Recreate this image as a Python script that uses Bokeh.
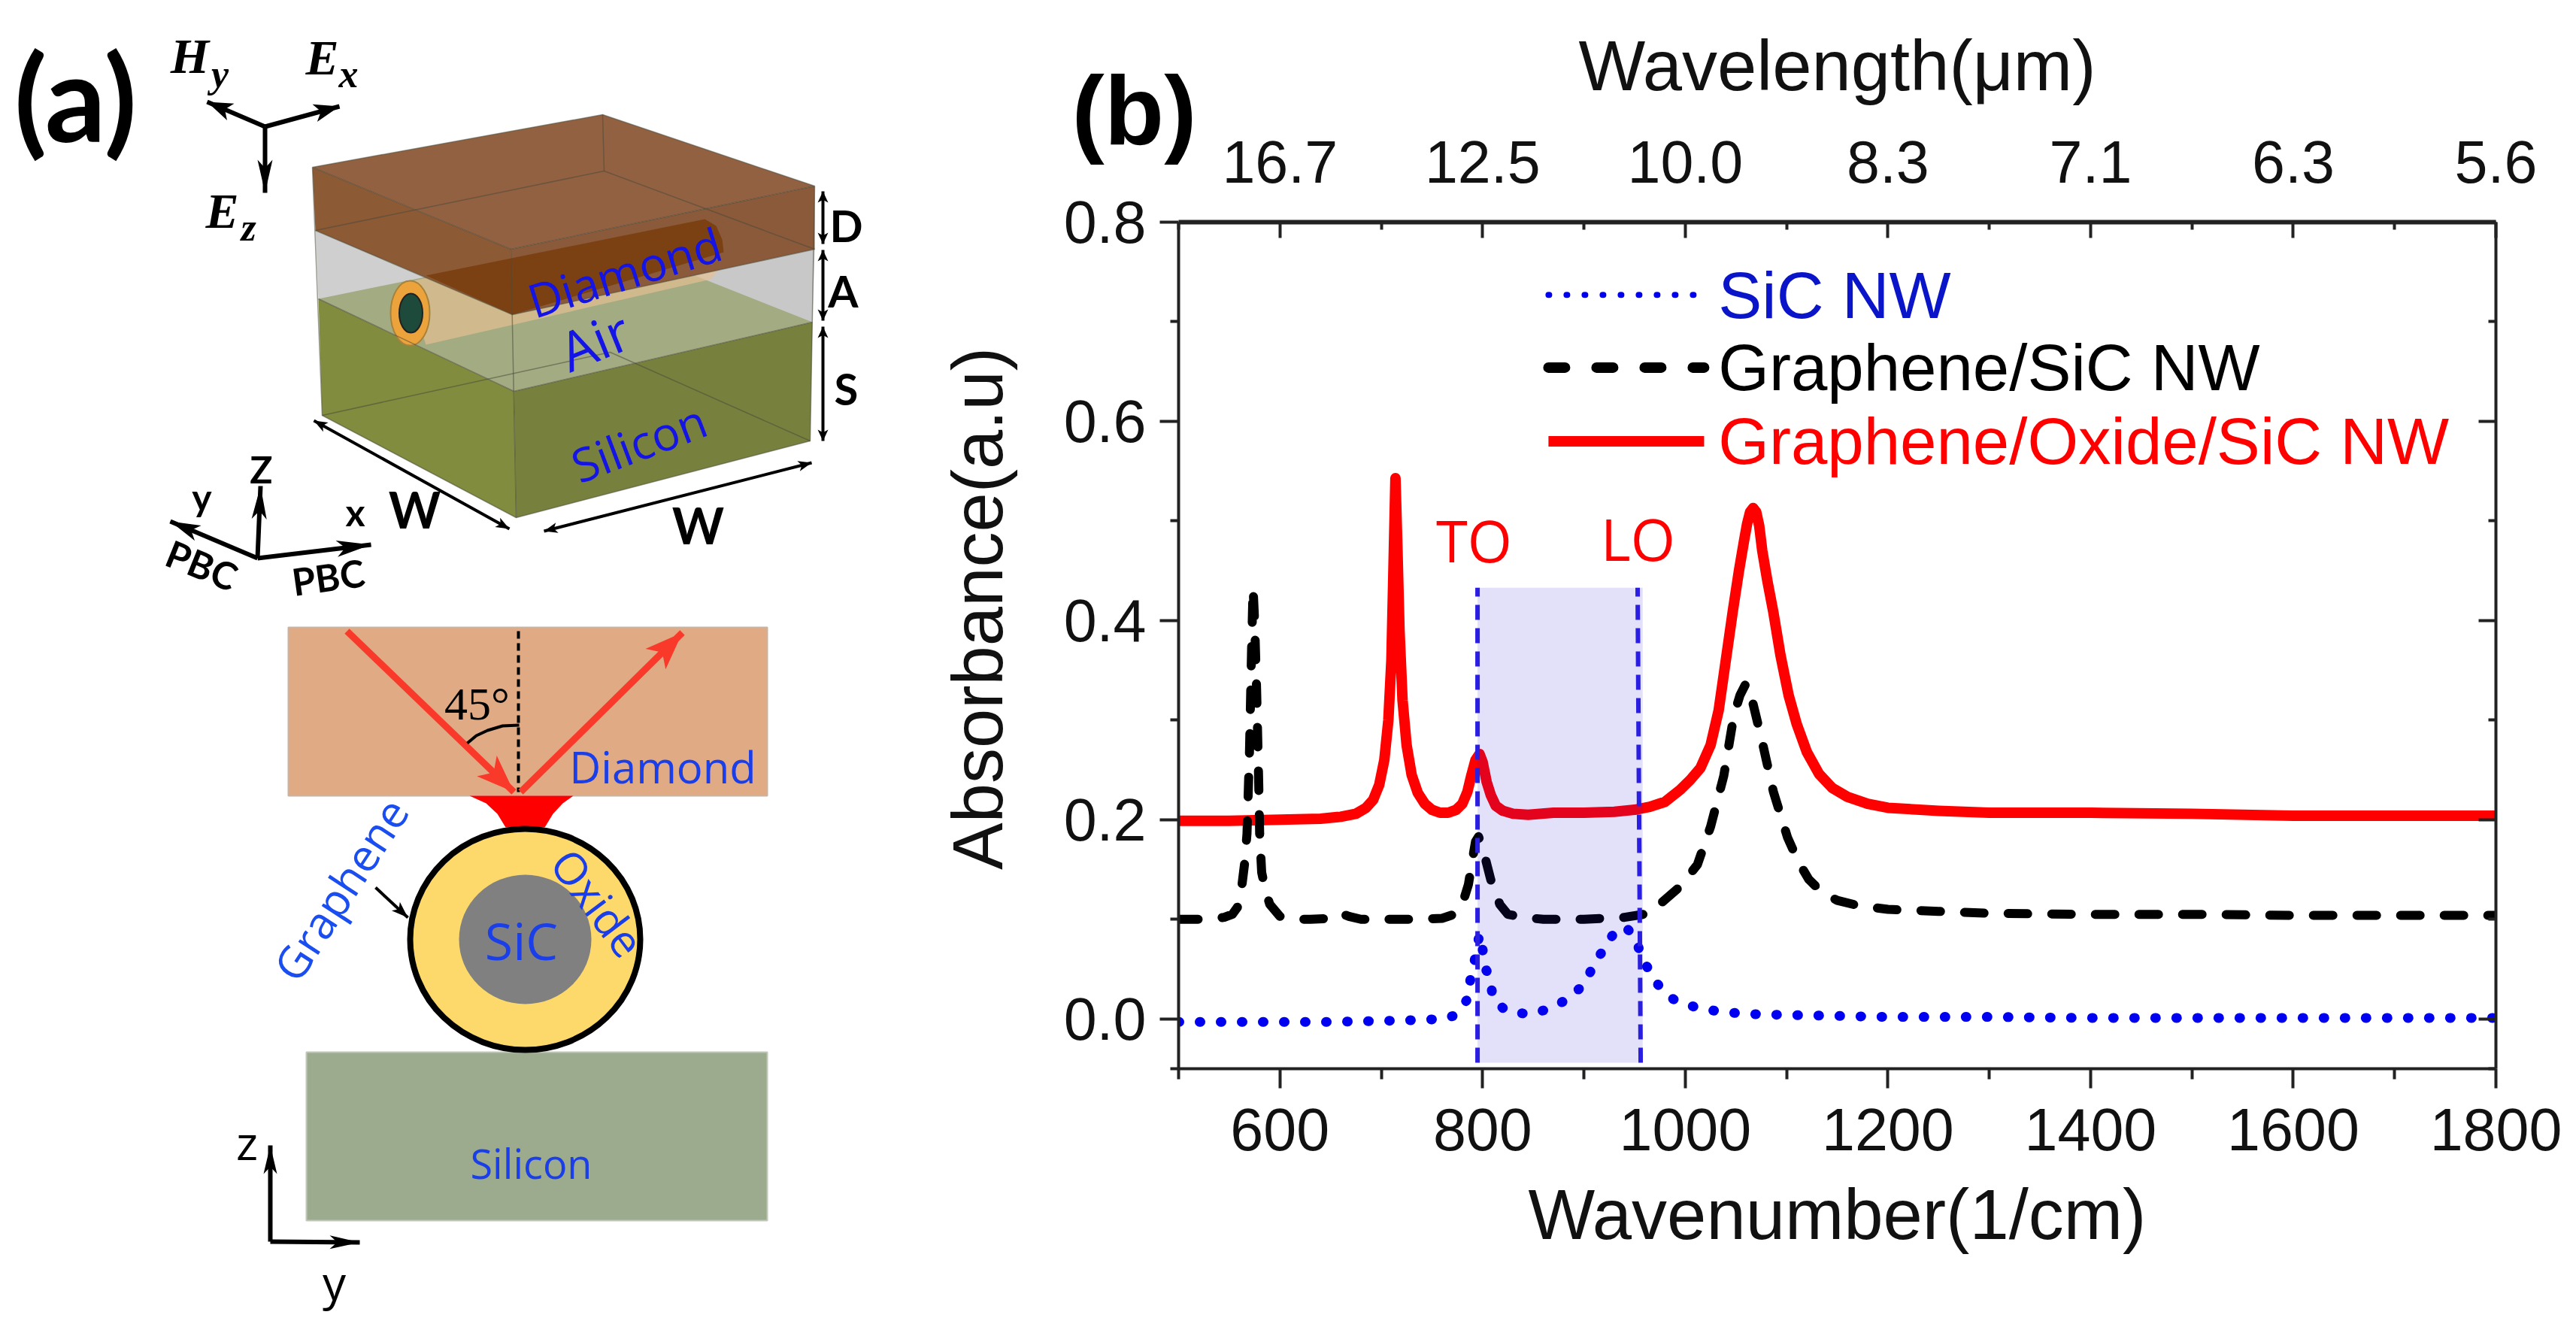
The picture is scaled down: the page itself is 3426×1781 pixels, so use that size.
from bokeh.plotting import figure
from bokeh.embed import file_html
from bokeh.resources import INLINE
from bokeh.models import Range1d, LinearAxis, FixedTicker, Label, NumeralTickFormatter
from bokeh.core.properties import value
import math

# ---------- chart data ----------
red_x = [500,550,600,640,660,675,685,692,698,703,707,710,712,714,716,718,721,725,730,736,743,750,758,766,774,780,785,789,793,797,800,804,808,813,820,830,845,870,900,930,950,965,980,995,1005,1015,1025,1033,1040,1047,1053,1058,1061,1064,1067,1070,1073,1076,1081,1087,1094,1102,1110,1120,1132,1145,1160,1180,1200,1250,1300,1400,1500,1600,1700,1800]
red_y = [.199,.199,.200,.201,.203,.206,.212,.220,.235,.26,.30,.36,.45,.543,.47,.39,.32,.275,.245,.227,.216,.21,.207,.207,.21,.216,.228,.245,.26,.266,.258,.238,.225,.214,.209,.206,.205,.207,.207,.208,.210,.213,.218,.23,.24,.252,.275,.31,.36,.41,.45,.48,.497,.509,.513,.509,.495,.47,.44,.408,.365,.325,.296,.268,.246,.232,.223,.216,.212,.209,.207,.207,.206,.204,.204,.204]
black_x = [500,530,545,553,558,562,565,567.5,570,572,573.5,575,577,579,580,582,586,590,600,615,630,650,660,668,680,700,730,760,772,780,786,790,793,796,800,808,817,825,840,860,900,940,965,978,995,1012,1025,1038,1048,1054,1060,1067,1076,1087,1101,1112,1122,1135,1150,1170,1200,1250,1300,1400,1500,1600,1700,1800]
black_y = [.100,.100,.102,.105,.112,.13,.155,.186,.27,.37,.433,.40,.33,.24,.186,.147,.128,.115,.103,.100,.100,.101,.106,.103,.100,.100,.100,.101,.105,.115,.135,.16,.178,.183,.172,.14,.115,.105,.102,.100,.100,.102,.106,.118,.133,.155,.193,.244,.305,.325,.337,.316,.278,.228,.182,.157,.14,.127,.119,.114,.110,.108,.106,.105,.105,.104,.104,.104]
blue_x = [500,550,600,650,700,740,760,771,780,785,788,791,794,797,800,803,807,810,816,824,835,846,856,866,875,884,892,899,905,909,915,921,927,932,938,943,949,953,956,961,966,972,979,988,997,1016,1038,1060,1100,1150,1200,1300,1400,1500,1600,1700,1800]
blue_y = [-.003,-.003,-.003,-.003,-.002,-.001,0,.003,.012,.02,.04,.052,.07,.085,.07,.05,.043,.022,.014,.008,.006,.005,.007,.011,.015,.02,.027,.034,.044,.054,.063,.072,.082,.09,.092,.09,.085,.075,.064,.055,.045,.036,.027,.02,.016,.01,.007,.005,.004,.003,.002,.002,.001,.001,.001,.001,.001]

x_major = [600, 800, 1000, 1200, 1400, 1600, 1800]
x_minor = [500, 700, 900, 1100, 1300, 1500, 1700]
y_major = [0.0, 0.2, 0.4, 0.6, 0.8]
y_minor = [-0.05, 0.1, 0.3, 0.5, 0.7]
top_labels = ["16.7", "12.5", "10.0", "8.3", "7.1", "6.3", "5.6"]
legend_names = ["SiC NW", "Graphene/SiC NW", "Graphene/Oxide/SiC NW"]
legend_colors = ["#0a14c8", "#000000", "#ff0000"]
legend_y = [0.727, 0.654, 0.580]
to_lo = [795, 956]
band_top = 0.433

PAGE_H = 1773
SPLIT = 1200     # image x where the chart figure starts
A_W = 1620       # the schematic layer runs under the chart's left margin
RIGHT = 3418
SANS = "Liberation Sans"
HUM = "Open Sans"

# ---------- panel (a): schematic in image pixel coordinates ----------
a = figure(width=A_W, height=PAGE_H, x_range=Range1d(0, A_W), y_range=Range1d(PAGE_H, 0),
           output_backend="svg", toolbar_location=None, min_border=0, outline_line_color=None)
a.xaxis.visible = False; a.yaxis.visible = False; a.grid.visible = False
a.styles = {"position": "absolute", "left": "0px", "top": "0px"}

def poly(pts, fill, alpha=1.0, line=None, lw=1.0, lalpha=1.0):
    a.patch([p[0] for p in pts], [p[1] for p in pts], fill_color=fill, fill_alpha=alpha,
            line_color=line, line_width=lw, line_alpha=lalpha)

def head(tip, tail, hl, hw, color):
    dx, dy = tip[0]-tail[0], tip[1]-tail[1]
    n = math.hypot(dx, dy); ux, uy = dx/n, dy/n
    bx, by = tip[0]-ux*hl, tip[1]-uy*hl
    a.patch([tip[0], bx-uy*hw, tip[0]-ux*hl*0.75, bx+uy*hw], [tip[1], by+ux*hw, tip[1]-uy*hl*0.75, by-ux*hw],
            fill_color=color, line_color=None)

def arrow(tail, tip, lw=4, hl=24, hw=9, color="#000000", both=False):
    a.line([tail[0], tip[0]], [tail[1], tip[1]], line_color=color, line_width=lw)
    head(tip, tail, hl, hw, color)
    if both:
        head(tail, tip, hl, hw, color)

def text(x, y, s, size, color="#000000", font=HUM, style="normal", angle=0, align="center"):
    a.text([x], [y], text=[s], text_font=value(font), text_font_size=f"{size}px", text_color=color,
           text_font_style=style, angle=math.radians(angle), text_align=align, text_baseline="middle")

# cube
poly([(423,397),(428,552),(686,688),(683,520)], "#828c3e")
poly([(683,520),(686,688),(1077,586),(1080,428)], "#78803e")
poly([(419,306),(681,418),(683,520),(423,397)], "#cfcfcf")
poly([(681,418),(1083,331),(1080,428),(683,520)], "#c8c8c8")
poly([(423,397),(683,520),(1080,428),(805,319)], "#a3ab83")
# wire (below the diamond)
poly([(539,375),(937,291),(952,300),(960,318),(962,335),(958,355),(945,371),(566,458)], "#e8c090", 0.65)
a.ellipse([545],[416], width=52, height=86, fill_color="#eda33b", line_color="#a9823a", line_width=2)
a.ellipse([546],[416], width=31, height=52, fill_color="#1d4a3a", line_color="#222222", line_width=2)
# diamond
poly([(415,222),(801,152),(1083,247),(679,331)], "#926142")
poly([(415,222),(679,331),(681,418),(419,306)], "#8d5a36")
poly([(679,331),(1083,247),(1083,331),(681,418)], "#8a5a3a")
poly([(566,366),(937,291),(952,300),(960,318),(962,335),(681,418)], "#7a3e0e", 0.9)
# cube edges
for pts in [[(415,222),(801,152),(1083,247),(679,331),(415,222)], [(679,331),(686,688)],
            [(801,152),(803,227)], [(419,306),(803,227),(1083,331)], [(423,397),(683,520),(1080,428)],
            [(428,552),(811,468),(1077,586)], [(415,222),(428,552),(686,688),(1077,586),(1083,247)],
            [(419,306),(681,418),(1083,331)]]:
    a.line([p[0] for p in pts], [p[1] for p in pts], line_color="#4a4a3a", line_width=1.5, line_alpha=0.55)

text(830, 361, "Diamond", 62, "#1414e6", angle=17.4)
text(790, 452, "Air", 72, "#1414e6", angle=22)
text(849, 588, "Silicon", 62, "#1414e6", angle=20.7)

# size arrows
arrow((1094,254),(1094,324), 4, 15, 7, both=True)
arrow((1094,332),(1094,426), 4, 15, 7, both=True)
arrow((1094,434),(1094,586), 4, 15, 7, both=True)
text(1125, 299, "D", 58, style="bold", font="Lato")
text(1121, 386, "A", 58, style="bold", font="Lato")
text(1125, 516, "S", 58, style="bold", font="Lato")
arrow((417,559),(677,703), 4, 18, 7, both=True)
arrow((723,706),(1079,615), 4, 18, 7, both=True)
text(551, 677, "W", 66, font="Lato", style="bold")
text(928, 698, "W", 66, font="Lato", style="bold")

# field triad
arrow((352,168),(275,135), 6, 34, 12)
arrow((352,168),(451,141), 6, 34, 12)
arrow((352,168),(352,256), 6, 44, 10)
SERIF = "Liberation Serif"
text(252, 74, "H", 66, font=SERIF, style="bold italic")
text(292, 98, "y", 52, font=SERIF, style="bold italic")
text(428, 76, "E", 66, font=SERIF, style="bold italic")
text(463, 98, "x", 52, font=SERIF, style="bold italic")
text(295, 280, "E", 66, font=SERIF, style="bold italic")
text(330, 302, "z", 52, font=SERIF, style="bold italic")

# coordinate triad
arrow((342,742),(346,646), 6, 44, 10)
arrow((342,742),(226,693), 6, 40, 11)
arrow((342,742),(493,724), 6, 46, 11)
text(347, 623, "Z", 50, font="Lato", style="bold")
text(268, 660, "y", 50, font="Lato", style="bold")
text(472, 680, "x", 50, font="Lato", style="bold")
text(268, 751, "PBC", 50, font="Lato", style="bold", angle=-22)
text(436, 767, "PBC", 50, font="Lato", style="bold", angle=8)
text(100, 126, "(a)", 160, font="Lato", style="bold")
text(1508, 146, "(b)", 130, font=SANS, style="bold")
text(1300, 809, "Absorbance(a.u)", 94, "#111111", font=SANS, angle=90)

# cross-section
poly([(383,834),(1020,834),(1020,1058),(383,1058)], "#e0aa85", line="#c8b4a4", lw=2)
poly([(407,1399),(1020,1399),(1020,1623),(407,1623)], "#9caa8e", line="#c0c8b8", lw=2)
poly([(624,1058),(762,1058),(748,1068),(735,1082),(724,1100),(672,1100),(661,1082),(646,1068)], "#ff0000")
a.ellipse([698],[1249], width=306, height=294, fill_color="#fdd86a", line_color="#000000", line_width=8)
a.ellipse([698],[1249], width=176, height=172, fill_color="#808080", line_color=None)
a.line([689,689],[839,1053], line_color="#000000", line_width=4, line_dash="10 6")
arrow((461,839),(683,1053), 9, 50, 19, "#f93a2a")
arrow((692,1053),(907,841), 9, 50, 19, "#f93a2a")
a.line([621,633,648,668,690],[988,978,971,965,964], line_color="#000000", line_width=4)
text(634, 935, "45°", 62, font=SERIF)
text(881, 1019, "Diamond", 58, "#1a3ee8")
text(706, 1546, "Silicon", 54, "#1a3ee8")
text(693, 1250, "SiC", 68, "#1a3ee8")
text(452, 1182, "Graphene", 59, "#1a4ef0", angle=57)
text(795, 1200, "Oxide", 59, "#1a3ee8", angle=-53)
arrow((499,1180),(542,1220), 4, 22, 8)
arrow((359,1651),(359,1523), 6, 38, 9)
arrow((359,1651),(478,1652), 6, 40, 9)
text(328, 1518, "z", 62)
text(444, 1704, "y", 62)

# ---------- panel (b): the chart ----------
p = figure(width=RIGHT-SPLIT, height=PAGE_H, x_range=Range1d(500, 1800), y_range=Range1d(-0.05, 0.8),
           output_backend="svg", toolbar_location=None, outline_line_color=None,
           min_border_left=1567-SPLIT, min_border_right=RIGHT-3319, min_border_top=295, min_border_bottom=PAGE_H-1421,
           x_axis_location=None, y_axis_location=None, background_fill_color=None, border_fill_color=None)
p.grid.visible = False
p.styles = {"position": "absolute", "left": f"{SPLIT}px", "top": "0px"}

def style(ax, lw, tick_in, tick_out, minor_in, minor_out):
    ax.axis_line_width = lw
    ax.major_tick_line_width = 4
    ax.minor_tick_line_width = 4
    ax.major_tick_in = tick_in
    ax.major_tick_out = tick_out
    ax.minor_tick_in = minor_in
    ax.minor_tick_out = minor_out
    ax.axis_line_color = ax.major_tick_line_color = ax.minor_tick_line_color = "#222222"
    ax.major_label_text_font = SANS
    ax.major_label_text_font_size = "79px"
    ax.major_label_text_color = "#111111"
    ax.axis_label_text_font = SANS
    ax.axis_label_text_font_style = "normal"
    ax.axis_label_text_font_size = "94px"
    ax.axis_label_text_color = "#111111"

xb = LinearAxis(ticker=FixedTicker(ticks=x_major, minor_ticks=x_minor), axis_label="Wavenumber(1/cm)")
style(xb, 4, 0, 26, 0, 14)
xb.major_label_standoff = 27
xb.axis_label_standoff = 30
p.add_layout(xb, "below")

xt = LinearAxis(ticker=FixedTicker(ticks=x_major, minor_ticks=x_minor), axis_label="Wavelength(μm)",
                major_label_overrides={t: s for t, s in zip(x_major, top_labels)})
style(xt, 6, 21, 0, 10, 0)
xt.major_label_standoff = 53
xt.axis_label_standoff = 45
p.add_layout(xt, "above")

yl = LinearAxis(ticker=FixedTicker(ticks=y_major, minor_ticks=y_minor), formatter=NumeralTickFormatter(format="0.0"))
style(yl, 4, 0, 25, 0, 11)
yl.major_label_standoff = 18
p.add_layout(yl, "left")

yr = LinearAxis(ticker=FixedTicker(ticks=y_major, minor_ticks=y_minor),
                major_label_overrides={t: "" for t in y_major})
style(yr, 4, 23, 0, 10, 0)
yr.major_label_standoff = 0
p.add_layout(yr, "right")

p.line(red_x, red_y, line_color="#ff0000", line_width=14, line_join="round")
p.line(black_x, black_y, line_color="#000000", line_width=12, line_dash="26 32", line_cap="round", line_join="round")
p.line(blue_x, blue_y, line_color="#0000f0", line_width=13, line_dash="1 27", line_cap="round")
p.quad(left=[to_lo[0]], right=[to_lo[1]+2], bottom=[-0.044], top=[band_top], fill_color="#2814dc", fill_alpha=0.13, line_color=None)
p.line([to_lo[0], to_lo[0]], [-0.044, band_top], line_color="#2a1fe0", line_width=6, line_dash="20 11")
p.line([to_lo[1], to_lo[1]-3], [-0.044, band_top], line_color="#2a1fe0", line_width=6, line_dash="20 11")

# legend samples
p.line([865, 1018.6], [legend_y[0]]*2, line_color="#0000f0", line_width=8, line_dash="1 23", line_cap="round")
p.line([865, 1018.6], [legend_y[1]]*2, line_color="#000000", line_width=14, line_dash="22 42", line_cap="round")
p.line([865, 1018.6], [legend_y[2]]*2, line_color="#ff0000", line_width=14)
for name, col, ly in zip(legend_names, legend_colors, legend_y):
    p.add_layout(Label(x=1032.6, y=ly, text=name, text_color=col, text_font=SANS, text_font_size="87px",
                       text_baseline="middle", text_align="left"))

def px2x(X): return 500 + (X-1567)/1.3477
def px2y(Y): return (1355-Y)/1325.0

p.add_layout(Label(x=px2x(1960), y=px2y(718), text="TO", text_color="#ff0000", text_font=HUM, text_font_size="76px",
                   text_align="center", text_baseline="middle"))
p.add_layout(Label(x=px2x(2178), y=px2y(716), text="LO", text_color="#ff0000", text_font=HUM, text_font_size="76px",
                   text_align="center", text_baseline="middle"))

open("out.html", "w").write(file_html([a, p], INLINE))
